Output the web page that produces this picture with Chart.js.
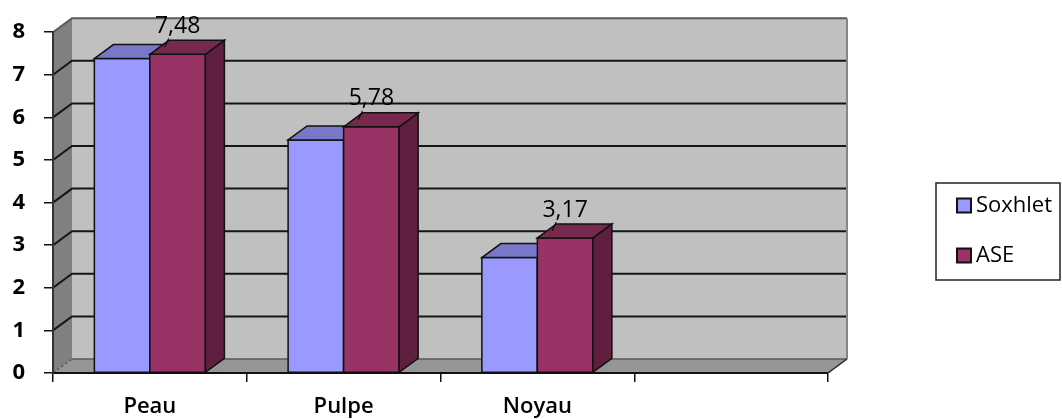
<!DOCTYPE html>
<html><head><meta charset="utf-8">
<script src="https://cdn.jsdelivr.net/npm/chart.js@4.4.0/dist/chart.umd.min.js"></script>
<style>html,body{margin:0;padding:0;background:#fff}#wrap{width:1062px;height:419px;position:relative}</style>
</head><body><div id="wrap"><canvas id="c"></canvas></div>
<script>
const categories = ['Peau', 'Pulpe', 'Noyau', ''];
const soxhlet = [7.38, 5.47, 2.71, null];
const ase = [7.48, 5.78, 3.17, null];
const yTicks = [0, 1, 2, 3, 4, 5, 6, 7, 8];
const seriesNames = ['Soxhlet', 'ASE'];

const DX = 19, DY = -14;
const FONT = "'Open Sans', 'DejaVu Sans', sans-serif";
const topColors = ['#7878c8', '#77284f'];
const sideColors = ['#5e5ea8', '#601f40'];

function poly(ctx, pts, fill, stroke, lw) {
  ctx.beginPath();
  ctx.moveTo(pts[0][0], pts[0][1]);
  for (let k = 1; k < pts.length; k++) ctx.lineTo(pts[k][0], pts[k][1]);
  ctx.closePath();
  if (fill) { ctx.fillStyle = fill; ctx.fill(); }
  if (stroke) { ctx.strokeStyle = stroke; ctx.lineWidth = lw || 1; ctx.stroke(); }
}

const threeD = {
  id: 'threeD',
  beforeDraw(chart) {
    const ctx = chart.ctx, a = chart.chartArea, ys = chart.scales.y;
    const L = a.left, R = a.right, T = a.top, B = a.bottom;
    ctx.save();
    ctx.fillStyle = '#c0c0c0';
    ctx.fillRect(L + DX, T + DY, R - L, B - T);
    poly(ctx, [[L, B], [L, T], [L + DX, T + DY], [L + DX, B + DY]], '#808080');
    poly(ctx, [[L, B], [L + DX, B + DY], [R + DX, B + DY], [R, B]], '#969696');
    ctx.lineCap = 'butt';
    yTicks.forEach(v => {
      const p = ys.getPixelForValue(v);
      ctx.beginPath();
      if (v === 0) {
        ctx.strokeStyle = '#5a5a5a'; ctx.lineWidth = 1.5;
        ctx.setLineDash([3, 2]);
        ctx.moveTo(L, p); ctx.lineTo(L + DX, p + DY);
        ctx.stroke();
        ctx.setLineDash([]);
        ctx.beginPath();
        ctx.moveTo(L + DX, p + DY); ctx.lineTo(R + DX, p + DY);
        ctx.stroke();
        return;
      }
      if (v === 8) {
        ctx.strokeStyle = '#5a5a5a'; ctx.lineWidth = 2;
      } else {
        ctx.strokeStyle = '#151515'; ctx.lineWidth = 2;
      }
      ctx.moveTo(L, p); ctx.lineTo(L + DX, p + DY); ctx.lineTo(R + DX, p + DY);
      ctx.stroke();
    });
    ctx.strokeStyle = '#858585'; ctx.lineWidth = 2;
    ctx.beginPath(); ctx.moveTo(R + DX, T + DY); ctx.lineTo(R + DX, B + DY); ctx.stroke();
    ctx.strokeStyle = '#222'; ctx.lineWidth = 1.5;
    ctx.beginPath(); ctx.moveTo(R, B); ctx.lineTo(R + DX, B + DY); ctx.stroke();
    ctx.restore();
  },
  afterDatasetsDraw(chart) {
    const ctx = chart.ctx;
    ctx.save();
    ctx.lineJoin = 'miter';
    for (let i = 0; i < categories.length; i++) {
      chart.data.datasets.forEach((ds, di) => {
        if (ds.data[i] == null) return;
        const el = chart.getDatasetMeta(di).data[i];
        if (!el) return;
        const pr = el.getProps(['x', 'y', 'base', 'width'], true);
        const l = pr.x - pr.width / 2, r = pr.x + pr.width / 2, t = pr.y, b = pr.base;
        poly(ctx, [[l, b], [l, t], [r, t], [r, b]], ds.backgroundColor, '#111', 1.5);
        poly(ctx, [[r, b], [r, t], [r + DX, t + DY], [r + DX, b + DY]], sideColors[di], '#111', 1.5);
        poly(ctx, [[l, t], [l + DX, t + DY], [r + DX, t + DY], [r, t]], topColors[di], '#111', 1.5);
      });
    }
    const dsA = chart.data.datasets[1];
    const metaA = chart.getDatasetMeta(1);
    ctx.font = '400 23px ' + FONT;
    ctx.fillStyle = '#000';
    ctx.textAlign = 'center';
    ctx.textBaseline = 'middle';
    dsA.data.forEach((v, i) => {
      if (v == null) return;
      const el = metaA.data[i];
      const pr = el.getProps(['x', 'y'], true);
      const ty = pr.y - 28;
      ctx.fillText(v.toFixed(2).replace('.', ','), pr.x, ty);
      ctx.strokeStyle = '#000'; ctx.lineWidth = 1;
      ctx.beginPath(); ctx.moveTo(pr.x - 9, ty + 12); ctx.lineTo(pr.x - 13, pr.y - 7); ctx.stroke();
    });
    const lx = 936, ly = 183, lw = 124, lh = 97;
    ctx.fillStyle = '#fff';
    ctx.fillRect(lx, ly, lw, lh);
    ctx.strokeStyle = '#222'; ctx.lineWidth = 1.5;
    ctx.strokeRect(lx, ly, lw, lh);
    ctx.font = '400 22px ' + FONT;
    ctx.textAlign = 'left';
    chart.data.datasets.forEach((ds, di) => {
      const cy = 206 + di * 50;
      ctx.fillStyle = ds.backgroundColor;
      ctx.fillRect(957, cy - 7.5, 14, 14);
      ctx.strokeStyle = '#111'; ctx.lineWidth = 2;
      ctx.strokeRect(957, cy - 7.5, 14, 14);
      ctx.fillStyle = '#000';
      ctx.fillText(ds.label, 976, cy);
    });
    ctx.restore();
  }
};

new Chart(document.getElementById('c'), {
  type: 'bar',
  data: {
    labels: categories,
    datasets: [
      { label: seriesNames[0], data: soxhlet, backgroundColor: '#9999ff', borderColor: '#111', borderWidth: 0 },
      { label: seriesNames[1], data: ase, backgroundColor: '#993366', borderColor: '#111', borderWidth: 0 }
    ]
  },
  options: {
    responsive: true,
    maintainAspectRatio: false,
    animation: false,
    layout: { padding: { top: 28, right: 234, bottom: 0, left: 0 } },
    datasets: { bar: { categoryPercentage: 0.573, barPercentage: 1.0 } },
    plugins: { legend: { display: false }, tooltip: { enabled: false } },
    scales: {
      x: {
        offset: true,
        grid: { offset: true, drawOnChartArea: false, drawTicks: true, tickLength: 9, color: '#111', lineWidth: 1.5 },
        border: { display: true, color: '#111', width: 2 },
        ticks: { color: '#000', font: { family: FONT, size: 22, weight: '600' }, padding: 12, maxRotation: 0 },
        afterFit(s) { s.height = 46; }
      },
      y: {
        min: 0, max: 8,
        afterBuildTicks(s) { s.ticks = yTicks.map(v => ({ value: v })); },
        grid: { drawOnChartArea: false, drawTicks: true, tickLength: 9, color: '#111', lineWidth: 1.5 },
        border: { display: true, color: '#333', width: 2 },
        ticks: { color: '#000', font: { family: FONT, size: 22, weight: '700' }, padding: 19 },
        afterFit(s) { s.width = 53; }
      }
    }
  },
  plugins: [threeD]
});
</script>
</body></html>
